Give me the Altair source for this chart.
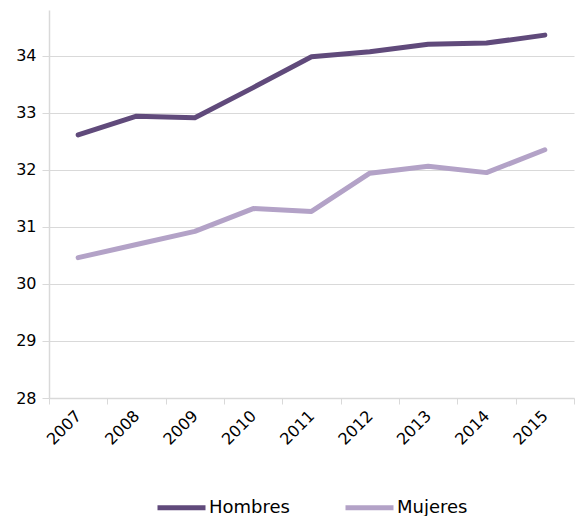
import altair as alt
import pandas as pd

years = ["2007", "2008", "2009", "2010", "2011", "2012", "2013", "2014", "2015"]
hombres = [32.61, 32.94, 32.91, 33.44, 33.98, 34.07, 34.20, 34.22, 34.36]
mujeres = [30.46, 30.69, 30.92, 31.32, 31.27, 31.94, 32.06, 31.95, 32.35]
series = ["Hombres", "Mujeres"]
colors = ["#604A7B", "#B3A2C7"]
y_ticks = [28, 29, 30, 31, 32, 33, 34]

rows = []
for name, vals in zip(series, [hombres, mujeres]):
    for yr, v in zip(years, vals):
        rows.append({"Año": yr, "Valor": v, "Serie": name})
df = pd.DataFrame(rows)

FONT = "DejaVu Sans"
GRAY = "#D9D9D9"

chart = alt.Chart(df).mark_line(strokeWidth=5, strokeCap="round", strokeJoin="round").encode(
    x=alt.X("Año:N", sort=years, bandPosition=0.5,
            scale=alt.Scale(type="band", paddingInner=0, paddingOuter=0),
            axis=alt.Axis(title=None, labelAngle=-45, labelFontSize=16, labelFont=FONT,
                          labelColor="#000000", tickBand="extent", tickColor=GRAY,
                          tickSize=6, domainColor=GRAY, domainWidth=1.5, grid=False,
                          labelAlign="right", labelBaseline="middle", labelPadding=9)),
    y=alt.Y("Valor:Q", scale=alt.Scale(domain=[28, 34.8], nice=False, zero=False),
            axis=alt.Axis(title=None, values=y_ticks, labelFontSize=16, labelFont=FONT,
                          labelColor="#000000", tickColor=GRAY, tickSize=7,
                          domainColor=GRAY, domainWidth=1.5, gridColor=GRAY,
                          gridWidth=1.2, labelPadding=6)),
    color=alt.Color("Serie:N", scale=alt.Scale(domain=series, range=colors),
                    legend=alt.Legend(title=None, orient="none", direction="horizontal",
                                      legendX=106, legendY=471,
                                      symbolType="stroke", symbolSize=2304,
                                      symbolStrokeWidth=5, labelFontSize=18,
                                      labelFont=FONT, labelColor="#000000",
                                      labelOffset=1, columnPadding=45)),
).properties(
    width=525, height=388,
    autosize=alt.AutoSizeParams(type="none"),
    padding={"left": 41, "top": 2, "right": 5, "bottom": 118},
).configure_view(stroke=None)

chart.save("out.html", embed_options={"renderer": "svg", "actions": False})
